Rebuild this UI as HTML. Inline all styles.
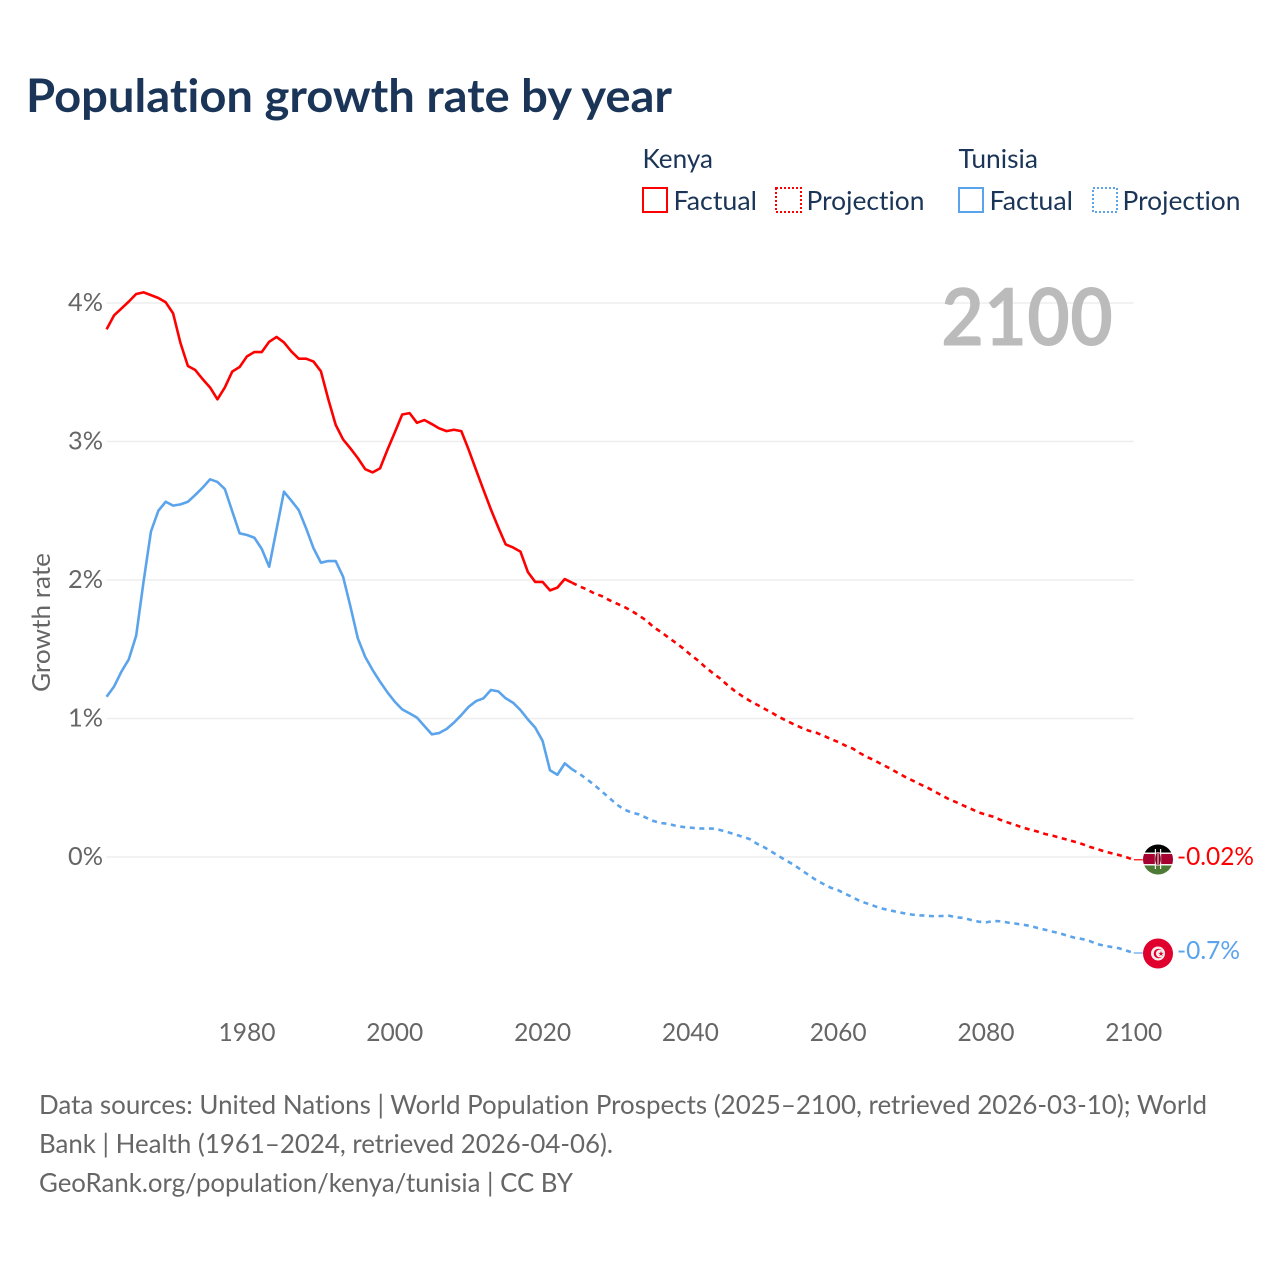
<!DOCTYPE html>
<html lang="en">
<head>
<meta charset="utf-8">
<title>Population growth rate by year</title>
<style>
  html, body { margin: 0; padding: 0; background: #fff; }
  svg { display: block; }
  text { font-family: Lato, Carlito, "Liberation Sans", sans-serif; font-variant-ligatures: none; }
</style>
</head>
<body>
<svg id="chart" xmlns="http://www.w3.org/2000/svg" width="1280" height="1280" viewBox="0 0 1280 1280">
  <defs>
    <clipPath id="kenya-clip"><circle cx="1158" cy="859.5" r="15"/></clipPath>
    <clipPath id="tunisia-clip"><circle cx="1158" cy="953.5" r="15"/></clipPath>
  </defs>
  <rect width="1280" height="1280" fill="#fff"/>
  <text x="26" y="112" font-size="46" font-weight="700" fill="#1a3557" textLength="646" lengthAdjust="spacingAndGlyphs">Population growth rate by year</text>

  <g font-size="26" fill="#1a3557">
    <text x="642.5" y="168" textLength="70.5" lengthAdjust="spacingAndGlyphs">Kenya</text>
    <rect x="643" y="188" width="24" height="24" fill="none" stroke="#ff0000" stroke-width="2"/>
    <text x="673.5" y="210" textLength="83.5" lengthAdjust="spacingAndGlyphs">Factual</text>
    <rect x="776" y="188" width="25" height="24" fill="none" stroke="#ff0000" stroke-width="2" stroke-dasharray="2 2"/>
    <text x="806.5" y="210" textLength="118" lengthAdjust="spacingAndGlyphs">Projection</text>
    <text x="958.5" y="168" textLength="79.5" lengthAdjust="spacingAndGlyphs">Tunisia</text>
    <rect x="959" y="188" width="24" height="24" fill="none" stroke="#5ba4ec" stroke-width="2"/>
    <text x="989.5" y="210" textLength="83.5" lengthAdjust="spacingAndGlyphs">Factual</text>
    <rect x="1093" y="188" width="24" height="24" fill="none" stroke="#5ba4ec" stroke-width="2" stroke-dasharray="2 2"/>
    <text x="1122.5" y="210" textLength="118" lengthAdjust="spacingAndGlyphs">Projection</text>
  </g>

  <g id="grid"></g>
  <g id="y-axis"></g>
  <g id="x-axis"></g>
  <text transform="translate(50,622.5) rotate(-90)" text-anchor="middle" font-size="25" fill="#666" textLength="139" lengthAdjust="spacingAndGlyphs">Growth rate</text>
  <text x="941" y="345.5" font-size="80" font-weight="700" fill="#bbbbbb" textLength="172" lengthAdjust="spacingAndGlyphs">2100</text>
  <g id="series"></g>

  <g clip-path="url(#kenya-clip)">
    <rect x="1143" y="844" width="30" height="8.5" fill="#000"/>
    <rect x="1143" y="852.5" width="30" height="1.5" fill="#f4f0f0"/>
    <rect x="1143" y="854" width="30" height="10" fill="#a50030"/>
    <rect x="1143" y="864" width="30" height="1.5" fill="#f4f0f0"/>
    <rect x="1143" y="865.5" width="30" height="10" fill="#4d7a35"/>
    <rect x="1154.8" y="849" width="1.2" height="20" fill="#f4f0f0"/>
    <rect x="1160" y="849" width="1.2" height="20" fill="#f4f0f0"/>
    <ellipse cx="1158" cy="859" rx="2.8" ry="6.5" fill="#7d0020"/>
    <rect x="1157.5" y="852" width="1" height="14" fill="#f4f0f0"/>
  </g>
  <g>
    <circle cx="1158" cy="953.5" r="15" fill="#e0002d"/>
    <circle cx="1158" cy="953.5" r="7" fill="#f6eeee"/>
    <circle cx="1158.5" cy="953.5" r="4.8" fill="#e0002d"/>
    <circle cx="1159.8" cy="953.5" r="3.9" fill="#f6eeee"/>
    <polygon points="1161,950.9 1161.7,952.9 1163.7,952.9 1162,954.1 1162.7,956.1 1161,954.9 1159.3,956.1 1160,954.1 1158.3,952.9 1160.3,952.9" fill="#e0002d"/>
  </g>

  <text id="kenya-end-label" x="1177" y="865" font-size="25" fill="#ff0000" textLength="77" lengthAdjust="spacingAndGlyphs">-0.02%</text>
  <text id="tunisia-end-label" x="1177" y="959" font-size="25" fill="#5ba4ec" textLength="63" lengthAdjust="spacingAndGlyphs">-0.7%</text>

  <g font-size="26" fill="#666">
    <text x="39" y="1114" textLength="1168" lengthAdjust="spacingAndGlyphs">Data sources: United Nations | World Population Prospects (2025–2100, retrieved 2026-03-10); World</text>
    <text x="39" y="1153" textLength="574" lengthAdjust="spacingAndGlyphs">Bank | Health (1961–2024, retrieved 2026-04-06).</text>
    <text x="39" y="1192" textLength="534" lengthAdjust="spacingAndGlyphs">GeoRank.org/population/kenya/tunisia | CC BY</text>
  </g>
</svg>

<script>
const yTicks = [0, 1, 2, 3, 4];
const xTicks = [1980, 2000, 2020, 2040, 2060, 2080, 2100];
const firstYear = 1961;
const lastFactualYear = 2024;

const kenyaFactual = [
  3.81,3.91,3.96,4.01,4.065,4.077,4.057,4.036,4.005,3.925,
  3.71,3.545,3.516,3.45,3.39,3.305,3.39,3.505,3.538,3.615,
  3.646,3.646,3.72,3.755,3.715,3.65,3.598,3.598,3.577,3.507,
  3.305,3.12,3.015,2.95,2.88,2.80,2.777,2.806,2.94,3.066,
  3.195,3.205,3.135,3.155,3.126,3.095,3.075,3.085,3.075,2.94,
  2.794,2.65,2.51,2.38,2.257,2.235,2.205,2.058,1.986,1.986,
  1.925,1.945,2.007,1.98
];
const kenyaProjection = [
  1.954,1.932,1.903,1.884,1.855,1.831,1.807,1.778,1.745,1.709,
  1.661,1.625,1.586,1.547,1.507,1.461,1.42,1.372,1.329,1.29,
  1.242,1.199,1.162,1.129,1.10,1.071,1.042,1.011,0.984,0.958,
  0.934,0.912,0.898,0.876,0.852,0.83,0.804,0.782,0.748,0.72,
  0.695,0.666,0.64,0.609,0.58,0.554,0.527,0.503,0.474,0.445,
  0.417,0.395,0.37,0.347,0.322,0.305,0.291,0.267,0.248,0.231,
  0.212,0.197,0.183,0.166,0.154,0.139,0.125,0.11,0.094,0.074,
  0.058,0.041,0.027,0.014,-0.002,-0.02
];
const tunisiaFactual = [
  1.157,1.23,1.338,1.427,1.598,1.988,2.35,2.50,2.565,2.537,
  2.546,2.565,2.614,2.667,2.727,2.708,2.657,2.496,2.337,2.325,
  2.305,2.224,2.096,2.366,2.638,2.573,2.505,2.373,2.229,2.125,
  2.137,2.137,2.024,1.807,1.578,1.444,1.35,1.266,1.189,1.121,
  1.066,1.037,1.006,0.946,0.886,0.895,0.924,0.97,1.025,1.085,
  1.126,1.146,1.206,1.196,1.146,1.114,1.061,0.994,0.934,0.838,
  0.626,0.594,0.676,0.633
];
const tunisiaProjection = [
  0.60,0.561,0.52,0.474,0.428,0.38,0.344,0.322,0.308,0.284,
  0.26,0.245,0.24,0.226,0.217,0.212,0.207,0.205,0.205,0.195,
  0.18,0.164,0.147,0.13,0.096,0.07,0.038,0.005,-0.027,-0.056,
  -0.094,-0.13,-0.166,-0.195,-0.222,-0.24,-0.267,-0.292,-0.32,-0.337,
  -0.356,-0.373,-0.385,-0.397,-0.407,-0.416,-0.421,-0.424,-0.428,-0.426,
  -0.424,-0.436,-0.44,-0.455,-0.467,-0.472,-0.462,-0.464,-0.474,-0.481,
  -0.489,-0.498,-0.513,-0.525,-0.539,-0.551,-0.568,-0.583,-0.592,-0.606,
  -0.628,-0.64,-0.65,-0.659,-0.676,-0.693
];

const SVG_NS = 'http://www.w3.org/2000/svg';
function xScale(year) { return 106.6 + (year - 1961) * (1133.8 - 106.6) / 139; }
function yScale(value) { return 857 - value * 138.5; }

function linePath(values, startYear) {
  return values.map(function (v, i) {
    return (i ? 'L' : 'M') + xScale(startYear + i).toFixed(2) + ' ' + yScale(v).toFixed(2);
  }).join(' ');
}

const grid = document.getElementById('grid');
const yAxis = document.getElementById('y-axis');
const xAxis = document.getElementById('x-axis');
const series = document.getElementById('series');

yTicks.forEach(function (t) {
  const g = document.createElementNS(SVG_NS, 'line');
  
  
  g.setAttribute('x1', xScale(firstYear));
  g.setAttribute('x2', xScale(2100));
  g.setAttribute('y1', yScale(t));
  g.setAttribute('y2', yScale(t));
  g.setAttribute('stroke', '#eeeeee');
  g.setAttribute('stroke-width', '1.5');
  grid.appendChild(g);

  const label = document.createElementNS(SVG_NS, 'text');
  
  
  label.setAttribute('x', 103);
  label.setAttribute('y', yScale(t) + 8);
  label.setAttribute('text-anchor', 'end');
  label.setAttribute('font-size', '25');
  label.setAttribute('fill', '#666');
  label.setAttribute('textLength', '35');
  label.setAttribute('lengthAdjust', 'spacingAndGlyphs');
  label.textContent = t + '%';
  yAxis.appendChild(label);
});

xTicks.forEach(function (t) {
  const label = document.createElementNS(SVG_NS, 'text');
  
  
  label.setAttribute('x', xScale(t));
  label.setAttribute('y', 1041);
  label.setAttribute('text-anchor', 'middle');
  label.setAttribute('font-size', '25');
  label.setAttribute('fill', '#666');
  label.setAttribute('textLength', '57');
  label.setAttribute('lengthAdjust', 'spacingAndGlyphs');
  label.textContent = t;
  xAxis.appendChild(label);
});

function drawCountry(name, color, factual, projection) {
  const lastFactual = factual[factual.length - 1];
  const lastValue = projection[projection.length - 1];

  const solid = document.createElementNS(SVG_NS, 'path');
  
  
  solid.setAttribute('d', linePath(factual, firstYear));
  solid.setAttribute('fill', 'none');
  solid.setAttribute('stroke', color);
  solid.setAttribute('stroke-width', '2.6');
  solid.setAttribute('stroke-linejoin', 'round');
  series.appendChild(solid);

  const dashed = document.createElementNS(SVG_NS, 'path');
  
  
  dashed.setAttribute('d', linePath([lastFactual].concat(projection), lastFactualYear));
  dashed.setAttribute('fill', 'none');
  dashed.setAttribute('stroke', color);
  dashed.setAttribute('stroke-width', '2.6');
  dashed.setAttribute('stroke-dasharray', '5 4.6');
  series.appendChild(dashed);

  const connector = document.createElementNS(SVG_NS, 'line');
  
  
  connector.setAttribute('x1', xScale(2100));
  connector.setAttribute('x2', xScale(2100) + 9);
  connector.setAttribute('y1', yScale(lastValue));
  connector.setAttribute('y2', yScale(lastValue));
  connector.setAttribute('stroke', color);
  connector.setAttribute('stroke-width', '1.2');
  series.appendChild(connector);
}

drawCountry('kenya', '#ff0000', kenyaFactual, kenyaProjection);
drawCountry('tunisia', '#5ba4ec', tunisiaFactual, tunisiaProjection);
</script>
</body>
</html>
